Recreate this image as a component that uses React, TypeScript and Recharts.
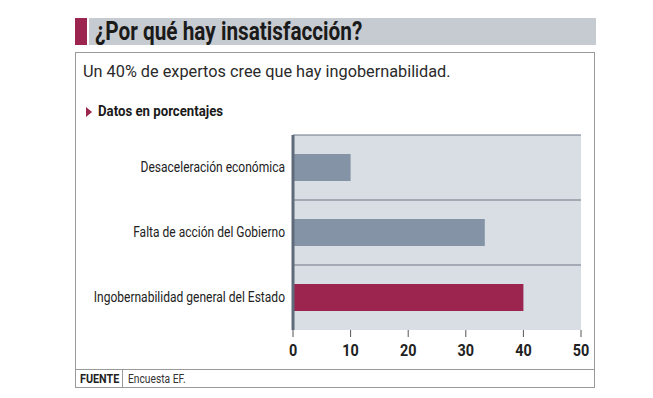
import { Bar, BarChart, CartesianGrid, Cell, XAxis, YAxis } from 'recharts'

const categories = [
  'Desaceleración económica',
  'Falta de acción del Gobierno',
  'Ingobernabilidad general del Estado',
]
const values = [10, 33.3, 40]
const barColors = ['#8494a6', '#8494a6', '#9c2550']
const xTicks = [0, 10, 20, 30, 40, 50]

const FONT = 'Roboto, sans-serif'

const data = categories.map((name, i) => ({ name, value: values[i] }))

// squeeze text horizontally to get the condensed look of the original
function Narrow({ scale, children }: { scale: number; children: any }) {
  return (
    <span style={{ display: 'inline-block', transform: `scaleX(${scale})`, transformOrigin: 'left', whiteSpace: 'nowrap' }}>
      {children}
    </span>
  )
}

function CategoryTick({ x, y, payload }: any) {
  return (
    <text
      transform={`translate(${x},${y}) scale(0.86,1)`}
      textAnchor="end"
      dy="0.35em"
      fontSize={14}
      fill="#222"
      fontFamily={FONT}
    >
      {payload.value}
    </text>
  )
}

function ValueTick({ x, y, payload }: any) {
  return (
    <text
      transform={`translate(${x},${y}) scale(0.9,1)`}
      textAnchor="middle"
      dy="0.71em"
      fontSize={16}
      fontWeight="bold"
      fill="#222"
      fontFamily={FONT}
    >
      {payload.value}
    </text>
  )
}

export default function App() {
  return (
    <div
      style={{
        position: 'absolute',
        left: 0,
        top: 0,
        width: 653,
        height: 398,
        background: '#fff',
        fontFamily: FONT,
        color: '#222',
      }}
    >
      {/* header */}
      <div style={{ position: 'absolute', left: 75, top: 18, width: 12, height: 27, background: '#9c2550' }} />
      <div
        style={{
          position: 'absolute',
          left: 89,
          top: 18,
          width: 507,
          height: 27,
          background: '#c6cad1',
          fontWeight: 'bold',
          fontSize: 25,
          lineHeight: '28px',
          paddingLeft: 6,
          boxSizing: 'border-box',
          color: '#1a1a1a',
        }}
      >
        <Narrow scale={0.83}>¿Por qué hay insatisfacción?</Narrow>
      </div>

      {/* frame */}
      <div
        style={{
          position: 'absolute',
          left: 75,
          top: 52,
          width: 520,
          height: 336,
          border: '1px solid #9a9a9a',
          boxSizing: 'border-box',
        }}
      />
      <div style={{ position: 'absolute', left: 83, top: 62, fontSize: 16.3, color: '#2a2a2a' }}>
        Un 40% de expertos cree que hay ingobernabilidad.
      </div>
      <div style={{ position: 'absolute', left: 86, top: 107, width: 0, height: 0, borderTop: '5px solid transparent', borderBottom: '5px solid transparent', borderLeft: '6px solid #9c2550' }} />
      <div style={{ position: 'absolute', left: 98, top: 102, fontSize: 15, fontWeight: 'bold', color: '#1a1a1a' }}>
        <Narrow scale={0.88}>Datos en porcentajes</Narrow>
      </div>

      {/* footer */}
      <div style={{ position: 'absolute', left: 75, top: 369, width: 520, height: 1, background: '#9a9a9a' }} />
      <div style={{ position: 'absolute', left: 122, top: 369, width: 1, height: 19, background: '#9a9a9a' }} />
      <div style={{ position: 'absolute', left: 80, top: 371, fontSize: 12.5, fontWeight: 'bold' }}>
        <Narrow scale={0.86}>FUENTE</Narrow>
      </div>
      <div style={{ position: 'absolute', left: 128, top: 371, fontSize: 12.5, color: '#333' }}>
        <Narrow scale={0.82}>Encuesta EF.</Narrow>
      </div>

      <div style={{ position: 'absolute', left: 0, top: 0 }}>
        <BarChart
          width={653}
          height={398}
          data={data}
          layout="vertical"
          margin={{ top: 135, right: 72, bottom: 40, left: 93 }}
        >
          <CartesianGrid
            vertical={false}
            fill="#d9dde4"
            stroke="#6e7887"
            strokeWidth={1.2}
            horizontalCoordinatesGenerator={({ offset }: any) =>
              categories.map((_, i) => offset.top + (i * offset.height) / categories.length)
            }
          />
          <XAxis
            type="number"
            domain={[0, 50]}
            ticks={xTicks}
            axisLine={false}
            tickLine={{ stroke: '#555' }}
            tickSize={7}
            tickMargin={8}
            height={28}
            tick={<ValueTick />}
          />
          <YAxis
            type="category"
            dataKey="name"
            width={200}
            axisLine={{ stroke: '#5f6b7a', strokeWidth: 3 }}
            tickLine={false}
            tickSize={6}
            tickMargin={2}
            tick={<CategoryTick />}
          />
          <Bar dataKey="value" barSize={27} isAnimationActive={false}>
            {data.map((d, i) => (
              <Cell key={d.name} fill={barColors[i]} />
            ))}
          </Bar>
        </BarChart>
      </div>
    </div>
  )
}
